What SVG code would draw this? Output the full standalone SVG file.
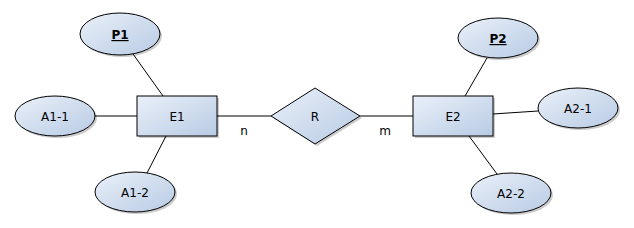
<svg xmlns="http://www.w3.org/2000/svg" width="634" height="228" viewBox="0 0 634 228">
<style>
.s{fill:url(#g);stroke:#000;stroke-width:1}
.sh{fill:#000;opacity:0.2}
.t{font-family:"DejaVu Sans",sans-serif;font-size:12px;text-anchor:middle;fill:#000}
.b{font-weight:bold;text-decoration:underline}
.c{stroke:#000;stroke-width:1;fill:none}
</style>
<defs>
<linearGradient id="g" x1="0" y1="0" x2="1" y2="1">
<stop offset="0" stop-color="#eaf0f9"/>
<stop offset="1" stop-color="#b8cbe4"/>
</linearGradient>
</defs>
<rect width="634" height="228" fill="#fff"/>
<g id="connectors">
<line class="c" x1="133" y1="54" x2="163" y2="96"/>
<line class="c" x1="95" y1="116" x2="137" y2="116"/>
<line class="c" x1="166" y1="136" x2="147" y2="173"/>
<line class="c" x1="217" y1="116" x2="271" y2="116"/>
<line class="c" x1="360" y1="116" x2="413" y2="116"/>
<line class="c" x1="465" y1="96" x2="487" y2="58"/>
<line class="c" x1="493" y1="114" x2="538" y2="111"/>
<line class="c" x1="469" y1="136" x2="497" y2="174"/>
<text class="t" x="244" y="135">n</text>
<text class="t" x="385" y="135">m</text>
</g>
<g id="P1">
<ellipse class="sh" cx="122" cy="36" rx="40" ry="21"/>
<ellipse class="s" cx="120" cy="34" rx="40" ry="21"/>
<text class="t b" x="120" y="39">P1</text>
</g>
<g id="A1-1">
<ellipse class="sh" cx="57" cy="118" rx="40" ry="20"/>
<ellipse class="s" cx="55" cy="116" rx="40" ry="20"/>
<text class="t" x="55" y="121">A1-1</text>
</g>
<g id="E1">
<rect class="sh" x="139" y="98" width="80" height="40"/>
<rect class="s" x="137" y="96" width="80" height="40"/>
<text class="t" x="177" y="121">E1</text>
</g>
<g id="A1-2">
<ellipse class="sh" cx="137" cy="194" rx="40" ry="20"/>
<ellipse class="s" cx="135" cy="192" rx="40" ry="20"/>
<text class="t" x="135" y="197">A1-2</text>
</g>
<g id="R">
<polygon class="sh" points="273,118 317,90 362,118 317,146"/>
<polygon class="s" points="271,116 315,88 360,116 315,144"/>
<text class="t" x="315" y="121">R</text>
</g>
<g id="E2">
<rect class="sh" x="415" y="98" width="80" height="40"/>
<rect class="s" x="413" y="96" width="80" height="40"/>
<text class="t" x="453" y="121">E2</text>
</g>
<g id="P2">
<ellipse class="sh" cx="500" cy="40" rx="40" ry="20"/>
<ellipse class="s" cx="498" cy="38" rx="40" ry="20"/>
<text class="t b" x="498" y="43">P2</text>
</g>
<g id="A2-1">
<ellipse class="sh" cx="580" cy="110" rx="40" ry="20"/>
<ellipse class="s" cx="578" cy="108" rx="40" ry="20"/>
<text class="t" x="578" y="113">A2-1</text>
</g>
<g id="A2-2">
<ellipse class="sh" cx="513" cy="195" rx="40" ry="20"/>
<ellipse class="s" cx="511" cy="193" rx="40" ry="20"/>
<text class="t" x="511" y="198">A2-2</text>
</g>
</svg>
